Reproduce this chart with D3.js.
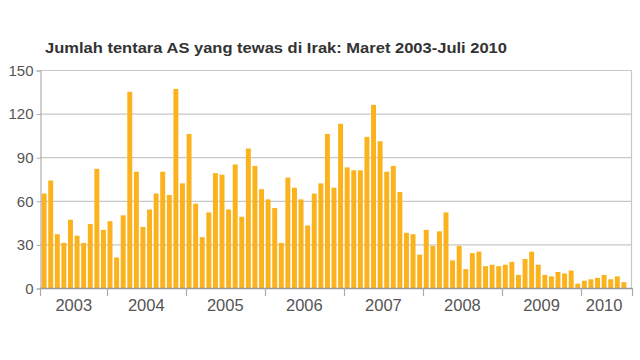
<!DOCTYPE html>
<html><head><meta charset="utf-8">
<script src="https://cdn.jsdelivr.net/npm/d3@7"></script>
<style>
html,body{margin:0;padding:0;background:#fff;}
svg{display:block;}
</style></head>
<body><svg id="chart" width="640" height="360"></svg>
<script>
const title = "Jumlah tentara AS yang tewas di Irak: Maret 2003-Juli 2010";
const years = [2003, 2004, 2005, 2006, 2007, 2008, 2009, 2010];
const monthsPerYear = [10, 12, 12, 12, 12, 12, 12, 7];
const deaths = [
  65, 74, 37, 31, 47, 36, 31, 44, 82, 40,
  46, 21, 50, 135, 80, 42, 54, 65, 80, 64, 137, 72,
  106, 58, 35, 52, 79, 78, 54, 85, 49, 96, 84, 68,
  61, 55, 31, 76, 69, 61, 43, 65, 72, 106, 69, 113,
  83, 81, 81, 104, 126, 101, 80, 84, 66, 38, 37, 23,
  40, 29, 39, 52, 19, 29, 13, 24, 25, 15, 16, 15,
  16, 18, 9, 20, 25, 16, 9, 8, 11, 10, 12, 3,
  5, 6, 7, 9, 6, 8, 4
];
const yTicks = [0, 30, 60, 90, 120, 150];

const svg = d3.select("#chart");
const L = 40, R = 631, T = 70, B = 288;

const idx = d3.range(deaths.length);
const x = d3.scaleBand().domain(idx).range([L + 1, R - 4]).paddingInner(0.25).paddingOuter(0.1);
const y = d3.scaleLinear().domain([0, 150]).range([B, T]);

// title
svg.append("text").attr("x", 45).attr("y", 53)
  .attr("font-family", "'Liberation Sans Narrow','Arial Narrow','Liberation Sans',Arial,sans-serif")
  .attr("font-weight", "bold").attr("font-size", 15).attr("fill", "#333")
  .attr("textLength", 462).attr("lengthAdjust", "spacingAndGlyphs")
  .text(title);

// gridlines
svg.append("g").selectAll("line").data(yTicks.filter(d => d > 0)).join("line")
  .attr("x1", L).attr("x2", R).attr("y1", d => y(d) + 0.5).attr("y2", d => y(d) + 0.5)
  .attr("stroke", "#c8c8c8").attr("stroke-width", 1.2);

// frame sides
svg.append("line").attr("x1", R + 0.5).attr("x2", R + 0.5).attr("y1", T).attr("y2", B)
  .attr("stroke", "#c8c8c8").attr("stroke-width", 1.2);

// bars
svg.append("g").selectAll("rect").data(deaths).join("rect")
  .attr("x", (d, i) => x(i)).attr("width", x.bandwidth())
  .attr("y", d => y(d)).attr("height", d => B - y(d))
  .attr("fill", "#fbb21c");

// y axis
const yAxis = d3.axisLeft(y).tickValues(yTicks).tickSize(4).tickPadding(3);
const gy = svg.append("g").attr("transform", `translate(${L + 0.5},0.5)`).call(yAxis);
gy.select(".domain").attr("stroke", "#b0b0b0").attr("stroke-width", 1.2);
gy.selectAll(".tick line").attr("stroke", "#b0b0b0");
gy.selectAll(".tick text").attr("font-family", "'Liberation Sans',Arial,sans-serif")
  .attr("font-size", 15).attr("fill", "#555");

// x baseline
svg.append("line").attr("x1", L).attr("x2", R + 1).attr("y1", B + 0.5).attr("y2", B + 0.5)
  .attr("stroke", "#999").attr("stroke-width", 1.5);

// year boundaries and labels
let start = 0;
const step = x.step();
const yearInfo = years.map((yr, k) => {
  const s = start, e = start + monthsPerYear[k] - 1;
  start += monthsPerYear[k];
  return { yr, s, e };
});
const boundaries = yearInfo.slice(1).map(d => x(d.s) - (step - x.bandwidth()) / 2);
boundaries.unshift(L);
boundaries.push(R + 0.5);
svg.append("g").selectAll("line").data(boundaries).join("line")
  .attr("x1", d => Math.round(d) + 0.5).attr("x2", d => Math.round(d) + 0.5)
  .attr("y1", B).attr("y2", B + 8)
  .attr("stroke", "#aaa").attr("stroke-width", 1.2);

svg.append("g").selectAll("text").data(yearInfo).join("text")
  .attr("x", d => (x(d.s) + x(d.e) + x.bandwidth()) / 2)
  .attr("y", 311)
  .attr("text-anchor", "middle")
  .attr("font-family", "'Liberation Sans',Arial,sans-serif")
  .attr("font-size", 16.5).attr("fill", "#555")
  .text(d => d.yr);
</script>
</body></html>
